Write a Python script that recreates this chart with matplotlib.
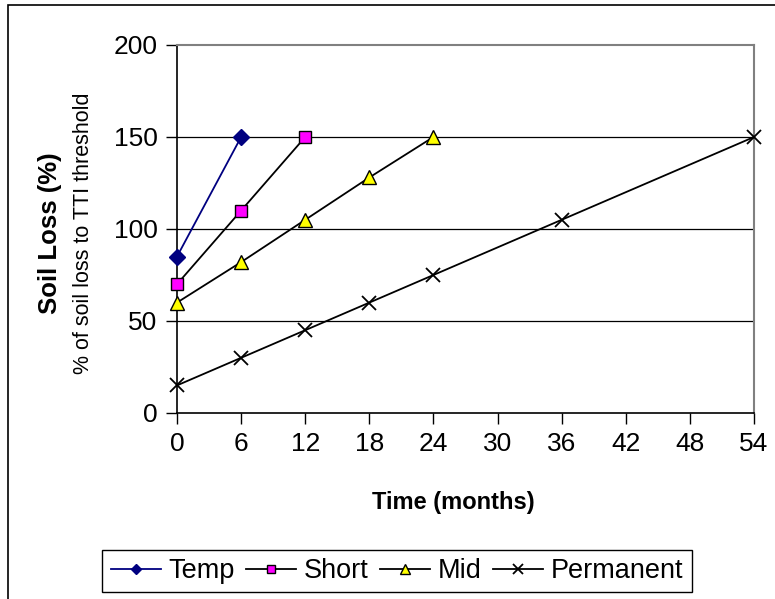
import matplotlib
matplotlib.use("Agg")
from matplotlib import pyplot as plt
from matplotlib.patches import Rectangle

plt.rcParams['font.family'] = ['Liberation Sans', 'DejaVu Sans']

# data
temp_x = [0, 6]
temp_y = [85, 150]
short_x = [0, 6, 12]
short_y = [70, 110, 150]
mid_x = [0, 6, 12, 18, 24]
mid_y = [60, 82, 105, 128, 150]
perm_x = [0, 6, 12, 18, 24, 36, 54]
perm_y = [15, 30, 45, 60, 75, 105, 150]

x_ticks = [0, 6, 12, 18, 24, 30, 36, 42, 48, 54]
y_ticks = [0, 50, 100, 150, 200]

fig = plt.figure(figsize=(7.75, 5.99), dpi=100)
ax = fig.add_axes([177/775, 1-413/599, (754-177)/775, (413-45)/599])

# outer chart frame (cut off at right and bottom)
fig.patches.append(Rectangle((8/775, -0.05), 1.2, 1.05 - 5/599,
                             transform=fig.transFigure, fill=False,
                             edgecolor='black', linewidth=1.2))

for yv in [50, 100, 150]:
    ax.axhline(yv, color='black', linewidth=0.9, zorder=1)

ax.plot(temp_x, temp_y, color='#000080', linewidth=1.3, marker='D', markersize=8,
        markerfacecolor='#000080', markeredgecolor='#000080', label='Temp', clip_on=False, zorder=3)
ax.plot(short_x, short_y, color='black', linewidth=1.3, marker='s', markersize=8,
        markerfacecolor='#ff00ff', markeredgecolor='black', label='Short', clip_on=False, zorder=3)
ax.plot(mid_x, mid_y, color='black', linewidth=1.3, marker='^', markersize=10,
        markerfacecolor='#ffff00', markeredgecolor='black', label='Mid', clip_on=False, zorder=3)
ax.plot(perm_x, perm_y, color='black', linewidth=1.3, marker='x', markersize=10,
        markeredgewidth=1.3, label='Permanent', clip_on=False, zorder=3)

ax.set_xlim(0, 54)
ax.set_ylim(0, 200)
ax.set_xticks(x_ticks)
ax.set_yticks(y_ticks)
ax.tick_params(axis='both', labelsize=19, direction='out', length=8, width=1, colors='black')
ax.tick_params(axis='x', pad=6)
ax.tick_params(axis='y', pad=6)

for s in ['top', 'right']:
    ax.spines[s].set_color('#808080')
    ax.spines[s].set_linewidth(1.5)
for s in ['left', 'bottom']:
    ax.spines[s].set_color('black')
    ax.spines[s].set_linewidth(1.2)

fig.text(453/775, 1-503/599, 'Time (months)', fontsize=17, fontweight='bold',
         ha='center', va='center')
fig.text(50/775, 1-233/599, 'Soil Loss (%)', rotation=90, fontsize=18.5, fontweight='bold',
         ha='center', va='center')
fig.text(84/775, 1-233/599, '% of soil loss to TTI threshold', rotation=90, fontsize=15.5,
         ha='center', va='center')

leg = fig.legend(loc='center', bbox_to_anchor=(397/775, 1-571/599), ncol=4, fontsize=19.5,
                 frameon=True, fancybox=False, edgecolor='black', framealpha=1,
                 handlelength=1.85, handletextpad=0.3, columnspacing=0.4, markerscale=0.7,
                 borderpad=0.3, borderaxespad=0)
leg.get_frame().set_linewidth(1)

plt.savefig('out.png', dpi=100)
plt.close()
